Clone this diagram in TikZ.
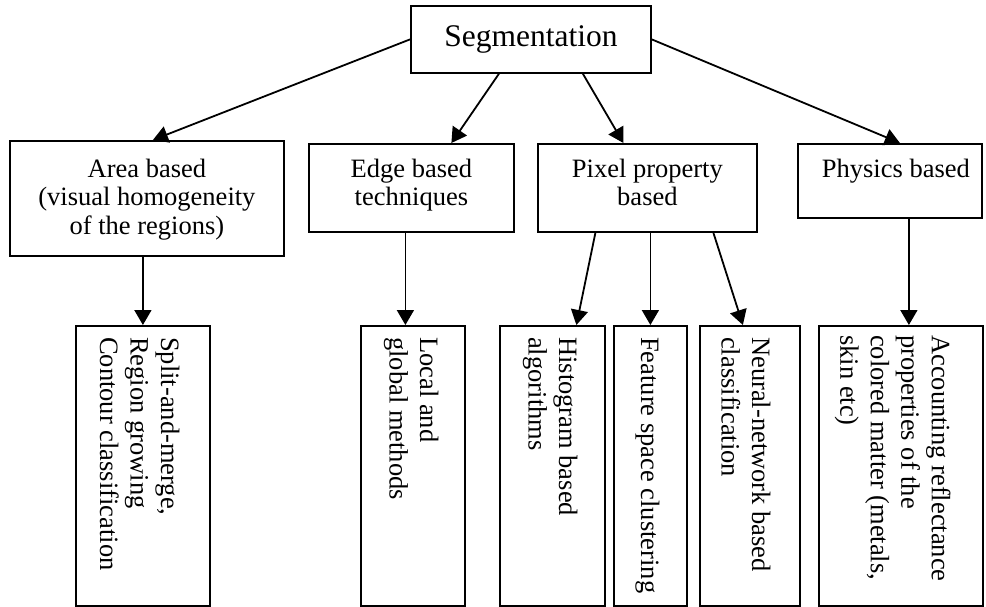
\documentclass[tikz,border=0pt]{standalone}
\usepackage{fontspec}
\setmainfont{Liberation Serif}
\usepackage{tikz}
\usetikzlibrary{arrows.meta, positioning, calc}
\tikzset{
  catbox/.style={draw,line width=1.8pt,inner sep=0pt,anchor=north west},
  toplbl/.style={inner sep=0pt,align=center,anchor=north,font=\fontsize{26.5}{28.3}\selectfont},
  sidelbl/.style={inner sep=0pt,align=left,rotate=-90,anchor=north west,font=\fontsize{26.5}{30.5}\selectfont},
  treearrow/.style={-{Triangle[length=15pt,width=17pt]},line width=1.8pt},
}

\begin{document}
\begin{tikzpicture}[x=1pt,y=-1pt]
  \useasboundingbox (0,0) rectangle (986,607);
  % Root
  \node[catbox,minimum width=240pt,minimum height=67pt,font=\fontsize{31.5}{34}\selectfont] (seg) at (410,5) {Segmentation};
  % Second level
  \node[catbox,minimum width=274pt,minimum height=115pt] (area)  at (9,140)   {};
  \node[catbox,minimum width=205pt,minimum height=88pt]  (edge)  at (308,143) {};
  \node[catbox,minimum width=219pt,minimum height=88pt]  (pixel) at (537,143) {};
  \node[catbox,minimum width=184pt,minimum height=74pt]  (phys)  at (797,143) {};
  \node[toplbl,below=19pt of area.north]  (areaText)  {Area based\\(visual homogeneity\\of the regions)};
  \node[toplbl,below=16pt of edge.north]  (edgeText)  {Edge based\\techniques};
  \node[toplbl,below=16pt of pixel.north] (pixelText) {Pixel property\\based};
  \node[toplbl,below=16pt of phys.north,xshift=6pt] (physText) {Physics based};
  % Third level
  \node[catbox,minimum width=134pt,minimum height=280pt] (areaSub)  at (75,325)  {};
  \node[catbox,minimum width=104pt,minimum height=280pt] (localSub) at (360,325) {};
  \node[catbox,minimum width=105pt,minimum height=280pt] (histo)    at (499,325) {};
  \node[catbox,minimum width=73pt,minimum height=280pt]  (feat)     at (613,325) {};
  \node[catbox,minimum width=100pt,minimum height=280pt] (neural)   at (699,325) {};
  \node[catbox,minimum width=164pt,minimum height=280pt] (acc)      at (818,325) {};
  \node[sidelbl] (areaSubText)  at ([xshift=-31pt,yshift=-12pt]areaSub.north east)  {Split-and-merge,\\Region growing\\Contour classification};
  \node[sidelbl] (localSubText) at ([xshift=-27pt,yshift=-12pt]localSub.north east) {Local and\\global methods};
  \node[sidelbl] (histoText)    at ([xshift=-28pt,yshift=-12pt]histo.north east)    {Histogram based\\algorithms};
  \node[sidelbl] (featText)     at ([xshift=-28pt,yshift=-12pt]feat.north east)     {Feature space clustering};
  \node[sidelbl] (neuralText)   at ([xshift=-30pt,yshift=-12pt]neural.north east)   {Neural-network based\\classification};
  \node[sidelbl] (accText)      at ([xshift=-33pt,yshift=-10pt]acc.north east)      {Accounting reflectance\\properties of the\\colored matter (metals,\\skin etc)};
  % Arrows
  \draw[treearrow] (seg.west) -- ([xshift=6pt]area.north);
  \draw[treearrow] ([xshift=-32pt]seg.south) -- ([xshift=40pt]edge.north);
  \draw[treearrow] ([xshift=52pt]seg.south) -- ([xshift=-24pt]pixel.north);
  \draw[treearrow] (seg.east) -- ([xshift=10pt]phys.north);
  \draw[treearrow] (areaSub.north |- area.south) -- (areaSub.north);
  \draw[treearrow] ([xshift=-6pt]edge.south) -- ([xshift=-6pt]edge.south |- localSub.north);
  \draw[treearrow] ([xshift=-52pt]pixel.south) -- ([xshift=24pt]histo.north);
  \draw[treearrow] (feat.north |- pixel.south) -- (feat.north);
  \draw[treearrow] ([xshift=66pt]pixel.south) -- ([xshift=-7pt]neural.north);
  \draw[treearrow] ([xshift=8pt]acc.north |- phys.south) -- ([xshift=8pt]acc.north);
\end{tikzpicture}
\end{document}
